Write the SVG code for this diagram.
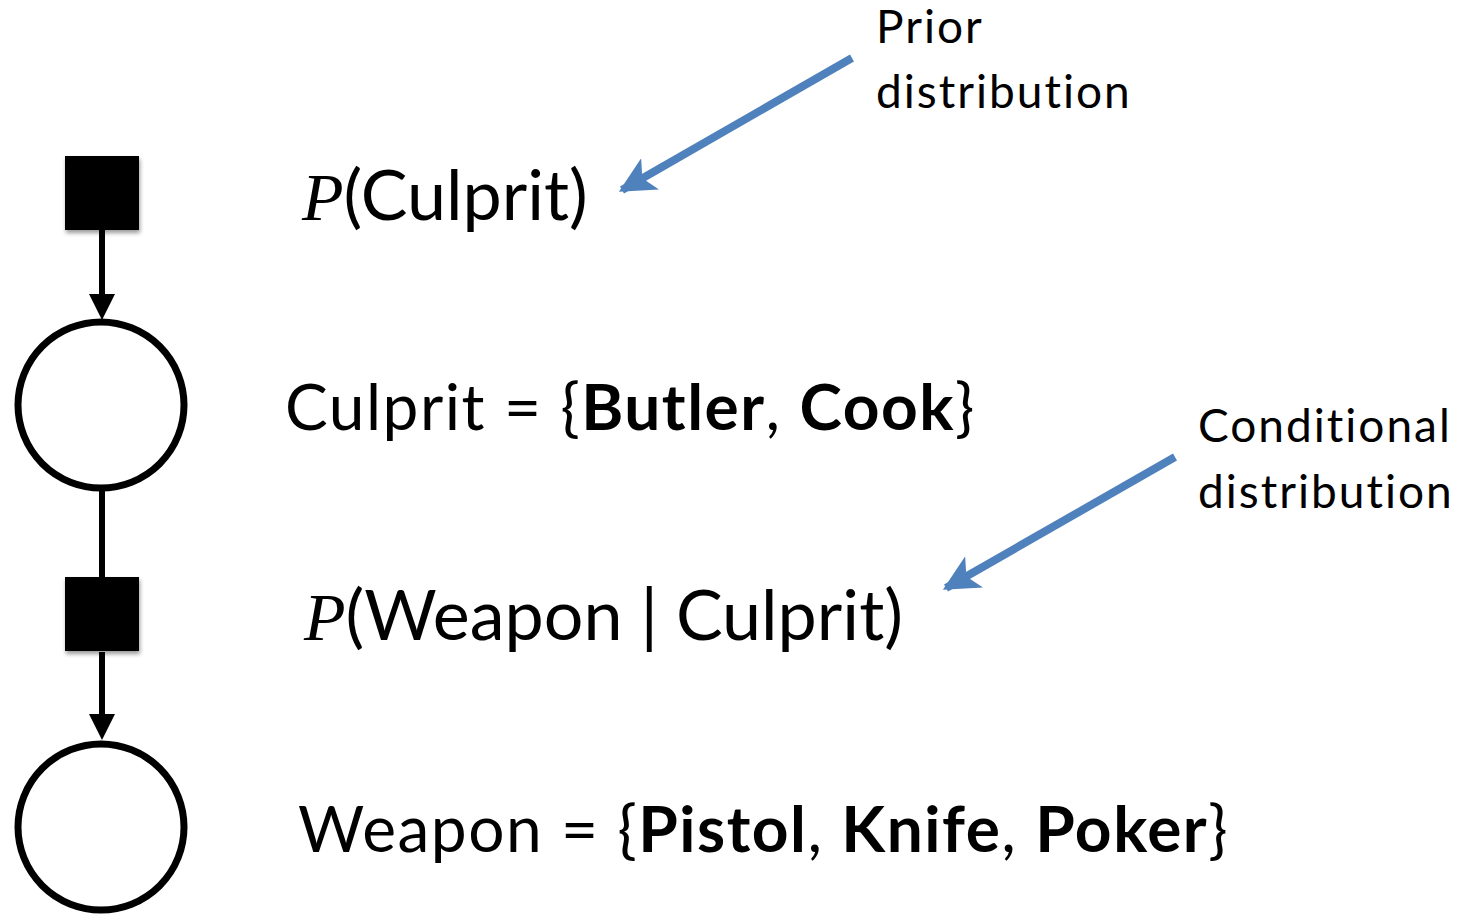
<svg xmlns="http://www.w3.org/2000/svg" width="1462" height="917" viewBox="0 0 1462 917">
<style>
text{font-variant-ligatures:none;font-feature-settings:"liga" 0,"clig" 0}
.t{font-family:Lato,"Noto Sans",sans-serif;fill:#000}
.m{font-family:"Liberation Serif",serif;font-style:italic;fill:#000}
.b{font-weight:bold}
.big{letter-spacing:1.5px}
.lab{letter-spacing:2px}
.fac{fill:#000}
.var{fill:#fff;stroke:#000;stroke-width:7}
.edge{stroke:#000;stroke-width:6;fill:none}
.ann{stroke:#4F81BD;stroke-width:8;fill:none}
</style>
<defs>
<marker id="bh" viewBox="0 0 10 10" refX="9" refY="5" markerWidth="36" markerHeight="36" orient="auto" markerUnits="userSpaceOnUse">
<path d="M0,0 L10,5 L0,10 L2.5,5 z" fill="#4F81BD"/>
</marker>
<filter id="sh" x="-20%" y="-20%" width="150%" height="150%">
<feGaussianBlur in="SourceAlpha" stdDeviation="2"/>
<feOffset dx="1" dy="3"/>
<feComponentTransfer><feFuncA type="linear" slope="0.4"/></feComponentTransfer>
<feMerge><feMergeNode/><feMergeNode in="SourceGraphic"/></feMerge>
</filter>
</defs>
<g id="connectors">
<line class="edge" x1="102" y1="230" x2="102" y2="296"/>
<path d="M89,294 L115,294 L102,320 z" fill="#000"/>
<line class="edge" x1="102" y1="488" x2="102" y2="578"/>
<line class="edge" x1="102" y1="652" x2="102" y2="716"/>
<path d="M89,714 L115,714 L102,740 z" fill="#000"/>
<line class="ann" x1="852" y1="58" x2="622" y2="190" marker-end="url(#bh)"/>
<line class="ann" x1="1175" y1="457" x2="946" y2="588" marker-end="url(#bh)"/>
</g>
<g id="factor-prior"><rect class="fac" x="65" y="156" width="74" height="74" filter="url(#sh)"/></g>
<g id="var-culprit"><circle class="var" cx="101" cy="405" r="83"/></g>
<g id="factor-cond"><rect class="fac" x="65" y="577" width="74" height="74" filter="url(#sh)"/></g>
<g id="var-weapon"><circle class="var" cx="101" cy="827" r="83"/></g>
<g id="labels">
<text x="302" y="220"><tspan class="m" font-size="68">P</tspan><tspan class="t" font-size="70">(Culprit)</tspan></text>
<text class="t big" x="285" y="430" font-size="64">Culprit = {<tspan class="b">Butler</tspan>, <tspan class="b">Cook</tspan>}</text>
<text x="304" y="640"><tspan class="m" font-size="68">P</tspan><tspan class="t" font-size="70">(Weapon | Culprit)</tspan></text>
<text class="t big" x="298" y="852" font-size="64">Weapon = {<tspan class="b">Pistol</tspan>, <tspan class="b">Knife</tspan>, <tspan class="b">Poker</tspan>}</text>
<text class="t lab" x="876" y="43" font-size="46">Prior</text>
<text class="t lab" x="876" y="108" font-size="46">distribution</text>
<text class="t lab" x="1198" y="442" font-size="46">Conditional</text>
<text class="t lab" x="1198" y="508" font-size="46">distribution</text>
</g>
</svg>
